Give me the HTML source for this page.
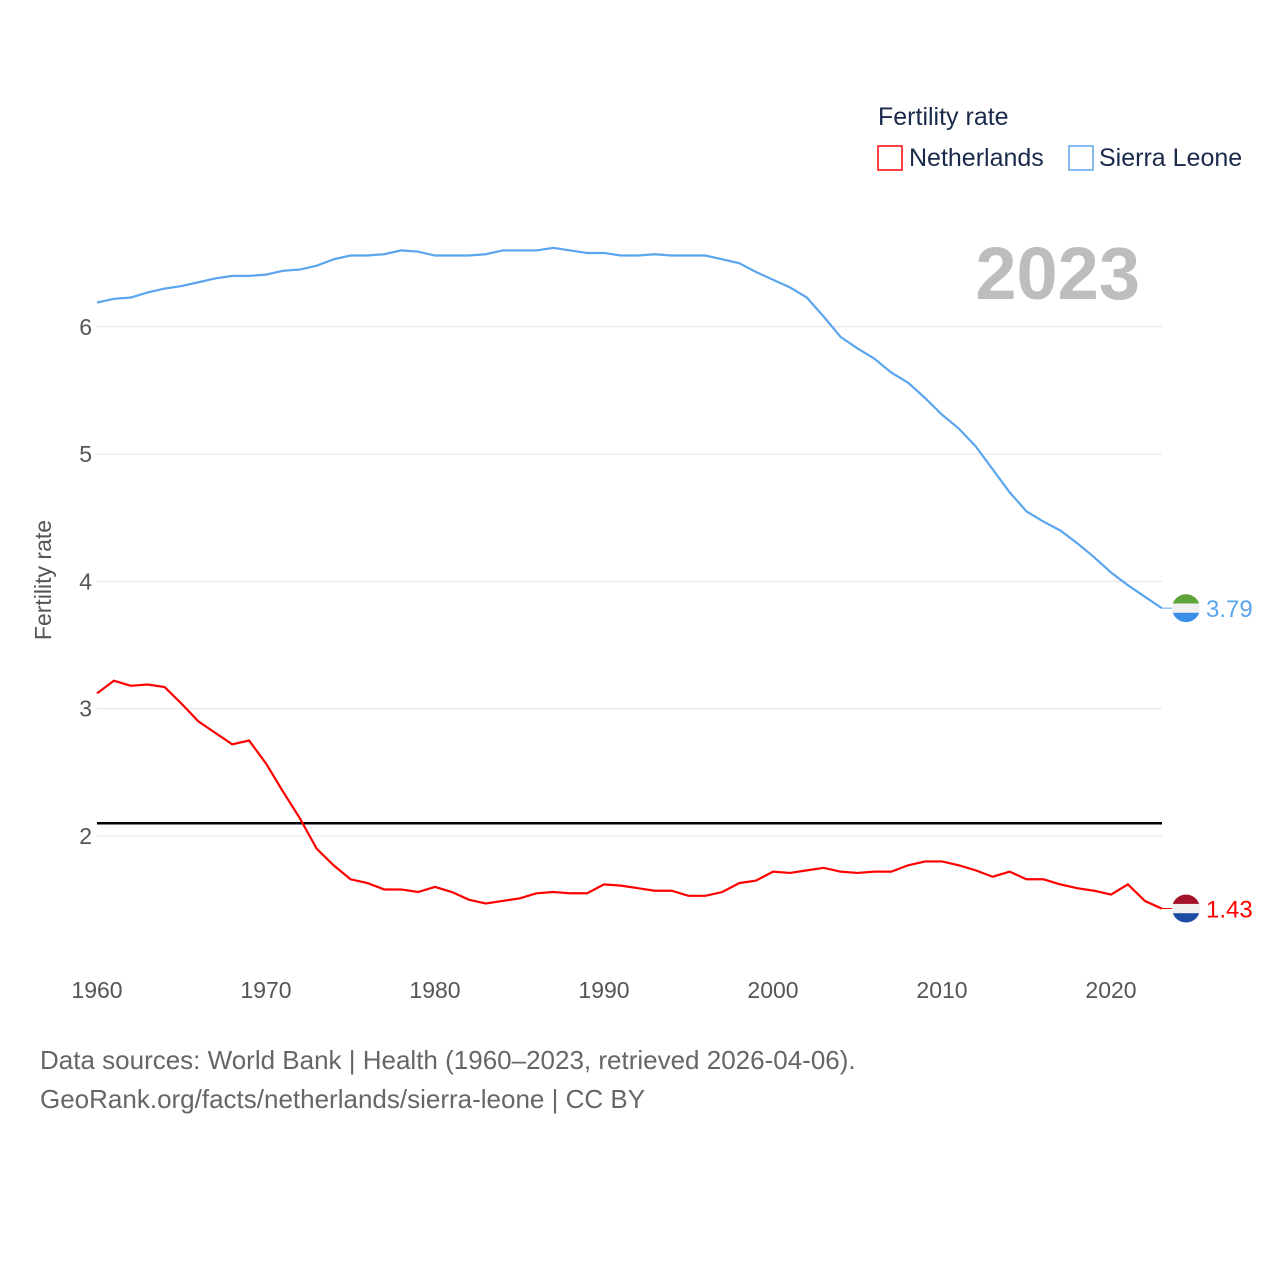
<!DOCTYPE html>
<html><head><meta charset="utf-8"><style>
body{margin:0;background:#fff;font-family:"Liberation Sans",sans-serif}
svg text{font-family:"Liberation Sans",sans-serif}
</style></head><body>
<svg width="1280" height="1280" xmlns="http://www.w3.org/2000/svg">
<text x="878" y="125" font-size="25" fill="#1a2a4a">Fertility rate</text>
<rect x="878" y="146" width="24" height="24" fill="none" stroke="#f00" stroke-width="1.5"/>
<text x="909" y="166" font-size="25" fill="#1a2a4a">Netherlands</text>
<rect x="1069" y="146" width="24" height="24" fill="none" stroke="#5aa5ee" stroke-width="1.5"/>
<text x="1099" y="166" font-size="25" fill="#1a2a4a">Sierra Leone</text>
<text x="1140" y="299" font-size="74" font-weight="bold" fill="#bdbdbd" text-anchor="end">2023</text>
<text transform="translate(51,580) rotate(-90)" font-size="23" fill="#555" text-anchor="middle">Fertility rate</text>
<g id="grid"></g><g id="marks"></g>
<text x="40" y="1069" font-size="26" fill="#666">Data sources: World Bank | Health (1960–2023, retrieved 2026-04-06).</text>
<text x="40" y="1108" font-size="26" fill="#666">GeoRank.org/facts/netherlands/sierra-leone | CC BY</text>
</svg>
<script>
const years=[];for(let y=1960;y<=2023;y++)years.push(y);
const sierraLeone=[6.19,6.22,6.23,6.27,6.30,6.32,6.35,6.38,6.40,6.40,6.41,6.44,6.45,6.48,6.53,6.56,6.56,6.57,6.60,6.59,6.56,6.56,6.56,6.57,6.60,6.60,6.60,6.62,6.60,6.58,6.58,6.56,6.56,6.57,6.56,6.56,6.56,6.53,6.50,6.43,6.37,6.31,6.23,6.08,5.92,5.83,5.75,5.64,5.56,5.44,5.31,5.20,5.06,4.88,4.70,4.55,4.47,4.40,4.30,4.19,4.07,3.97,3.88,3.79];
const netherlands=[3.12,3.22,3.18,3.19,3.17,3.04,2.90,2.81,2.72,2.75,2.57,2.35,2.14,1.90,1.77,1.66,1.63,1.58,1.58,1.56,1.60,1.56,1.50,1.47,1.49,1.51,1.55,1.56,1.55,1.55,1.62,1.61,1.59,1.57,1.57,1.53,1.53,1.56,1.63,1.65,1.72,1.71,1.73,1.75,1.72,1.71,1.72,1.72,1.77,1.80,1.80,1.77,1.73,1.68,1.72,1.66,1.66,1.62,1.59,1.57,1.54,1.62,1.49,1.43];
const yTicks=[2,3,4,5,6];
const xTicks=[1960,1970,1980,1990,2000,2010,2020];
const replacement=2.1;
const NS="http://www.w3.org/2000/svg";
const X=y=>97+(y-1960)*16.9, Y=v=>836-(v-2)*127.3;
function mk(t,a,p){const e=document.createElementNS(NS,t);for(const k in a)e.setAttribute(k,a[k]);p.appendChild(e);return e;}
const g=document.getElementById('grid'),m=document.getElementById('marks');
yTicks.forEach(v=>{const l=mk('line',{x1:97,x2:1162,y1:Y(v),y2:Y(v),stroke:'#e6e6e6'},g);


const t=mk('text',{x:92,y:Y(v)+8,'font-size':23,fill:'#555','text-anchor':'end'},g);t.textContent=v;

});
xTicks.forEach(v=>{const t=mk('text',{x:X(v),y:998,'font-size':23,fill:'#555','text-anchor':'middle'},g);t.textContent=v;

});
const rl=mk('line',{x1:97,x2:1162,y1:Y(replacement),y2:Y(replacement),stroke:'#000','stroke-width':2.5},m);


function series(vals,color,name,flag){
const p=mk('polyline',{points:vals.map((v,i)=>X(years[i])+','+Y(v)).join(' '),fill:'none',stroke:color,'stroke-width':2.2},m);


const lv=vals[vals.length-1],lx=X(years[years.length-1]),ly=Y(lv);
mk('line',{x1:lx,x2:1186,y1:ly,y2:ly,stroke:color,'stroke-width':1},m);
const cid='c'+name;const cp=mk('clipPath',{id:cid},m);mk('circle',{cx:1186,cy:ly,r:14},cp);
const fg=mk('g',{'clip-path':'url(#'+cid+')'},m);


flag.forEach((c,i)=>mk('rect',{x:1172,y:ly-14+i*28/3,width:28,height:28/3+0.5,fill:c},fg));
const t=mk('text',{x:1206,y:ly+9,'font-size':24,fill:color},m);t.textContent=lv.toFixed(2);


}
series(sierraLeone,'#5aa5ee','sierra-leone',['#5ea33a','#f0f0f0','#3a8ee6']);
series(netherlands,'#f00','netherlands',['#a3112a','#f0f0f0','#1d4ca3']);
</script>
</body></html>
